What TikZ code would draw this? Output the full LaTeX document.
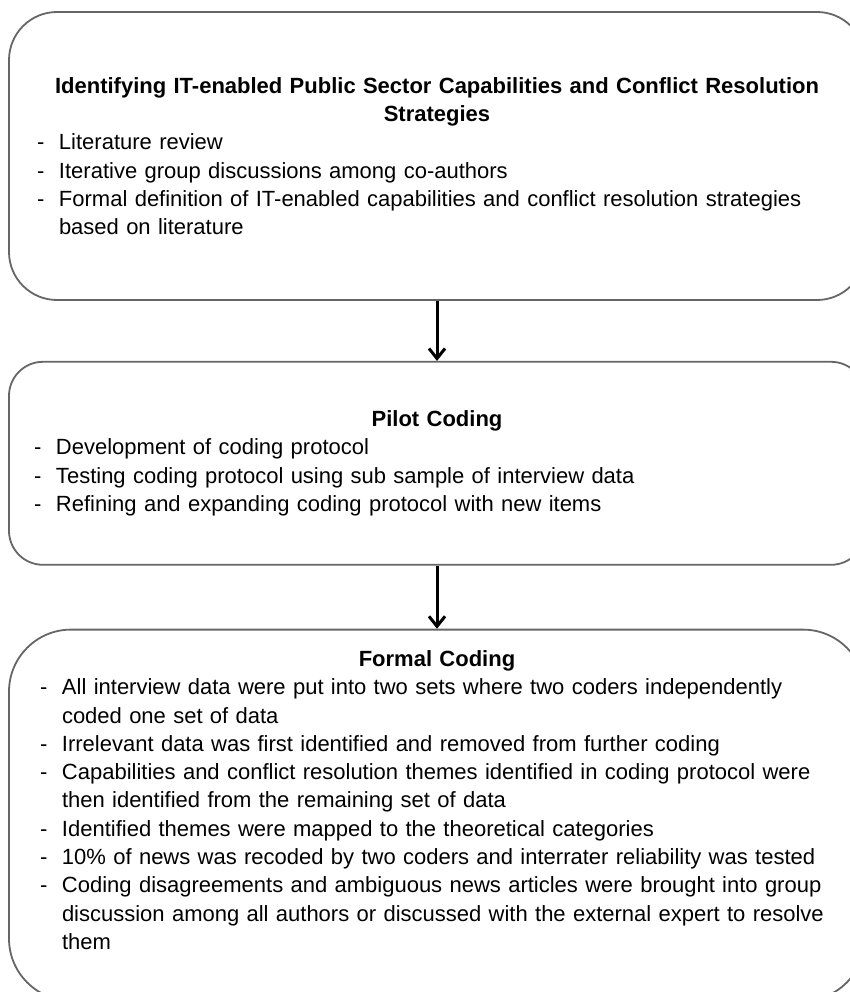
\documentclass[tikz,border=0pt]{standalone}
\usepackage{fontspec}
\setmainfont{Liberation Sans}
\usetikzlibrary{arrows.meta,positioning}

% dash item with hanging indent
\newcommand{\dashitem}[1]{\noindent\hangindent=22pt\hangafter=1\makebox[22pt][l]{-}#1\par}

\begin{document}
\begin{tikzpicture}[x=1pt, y=1pt, >={Straight Barb[length=10pt,width=16pt]}]
\tikzstyle{stage}=[draw=black!60, line width=1.8pt, inner xsep=28pt,
                   text width=800pt, font=\fontsize{22}{28.3}\selectfont]
\tikzstyle{flow}=[->, line width=3pt]

\useasboundingbox (0,0) rectangle (850,-992);
\clip (0,0) rectangle (850,-992);

\node[stage, rounded corners=48pt, minimum height=288pt] (ident) at (437,-156)
  {\centering\bfseries Identifying IT-enabled Public Sector Capabilities and Conflict Resolution\\ Strategies\par
   \raggedright\mdseries
   \dashitem{Literature review}
   \dashitem{Iterative group discussions among co-authors}
   \dashitem{Formal definition of IT-enabled capabilities and conflict resolution strategies\newline based on literature}};

\node[stage, rounded corners=34pt, minimum height=203pt, inner xsep=25pt,
      text width=806pt, below=60pt of ident] (pilot)
  {\centering\bfseries Pilot Coding\par
   \raggedright\mdseries
   \dashitem{Development of coding protocol}
   \dashitem{Testing coding protocol using sub sample of interview data}
   \dashitem{Refining and expanding coding protocol with new items}};

% text sits high in this box, so pad below it
\node[stage, rounded corners=62pt, minimum height=371pt, inner xsep=31pt,
      text width=794pt, below=63pt of pilot] (formal)
  {\centering\bfseries Formal Coding\par
   \raggedright\mdseries
   \dashitem{All interview data were put into two sets where two coders independently\newline coded one set of data}
   \dashitem{Irrelevant data was first identified and removed from further coding}
   \dashitem{Capabilities and conflict resolution themes identified in coding protocol were\newline then identified from the remaining set of data}
   \dashitem{Identified themes were mapped to the theoretical categories}
   \dashitem{10\% of news was recoded by two coders and interrater reliability was tested}
   \dashitem{Coding disagreements and ambiguous news articles were brought into group\newline discussion among all authors or discussed with the external expert to resolve\newline them}
   \vspace{30pt}\hrule height 0pt width 0pt};

\draw[flow] (ident) -- (pilot);
\draw[flow] (pilot) -- (formal);

\end{tikzpicture}
\end{document}
